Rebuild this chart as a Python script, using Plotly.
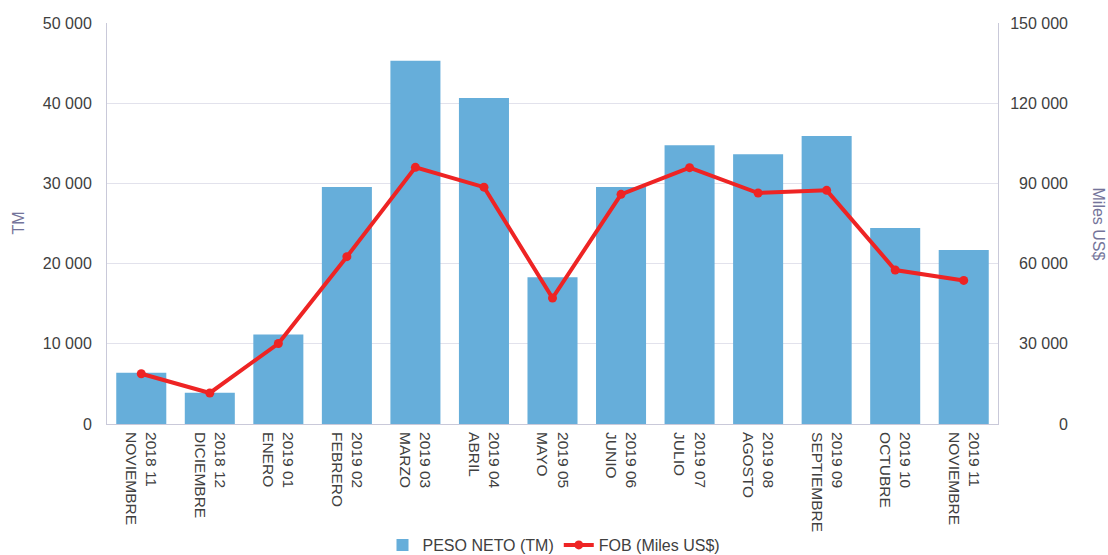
import plotly.graph_objects as go

months = ["2018 11<br>NOVIEMBRE", "2018 12<br>DICIEMBRE", "2019 01<br>ENERO", "2019 02<br>FEBRERO",
          "2019 03<br>MARZO", "2019 04<br>ABRIL", "2019 05<br>MAYO", "2019 06<br>JUNIO",
          "2019 07<br>JULIO", "2019 08<br>AGOSTO", "2019 09<br>SEPTIEMBRE", "2019 10<br>OCTUBRE",
          "2019 11<br>NOVIEMBRE"]
peso_neto_tm = [6400, 3900, 11150, 29550, 45300, 40650, 18300, 29550, 34750, 33650, 35900, 24450, 21700]
fob_miles_usd = [18800, 11600, 30100, 62600, 96000, 88600, 47100, 85900, 95900, 86400, 87400, 57600, 53700]

left_ticks = [0, 10000, 20000, 30000, 40000, 50000]
right_ticks = [0, 30000, 60000, 90000, 120000, 150000]


def fmt(v):
    return f"{v:,}".replace(",", " ")


font_family = "Liberation Sans, Arial, sans-serif"
tick_color = "#404040"
title_color = "#74749A"
axis_line = "#C9C9D9"
grid = "#E2E2EC"

W, H = 1108, 555
L, T = 107, 23
B = H - 424
R = W - 1068
plot_right = 998
dom_end = (plot_right - L) / (W - R - L)

fig = go.Figure()
fig.add_trace(go.Bar(
    x=months, y=peso_neto_tm, name="PESO NETO (TM)",
    marker=dict(color="#66AEDA", line=dict(width=0)),
    yaxis="y",
))
fig.add_trace(go.Scatter(
    x=months, y=fob_miles_usd, name="FOB (Miles US$)",
    mode="lines+markers",
    line=dict(color="#EE2424", width=4),
    marker=dict(color="#EE2424", size=9),
    yaxis="y2",
))

fig.update_layout(
    width=W, height=H,
    margin=dict(l=L, r=R, t=T, b=B),
    paper_bgcolor="white", plot_bgcolor="white",
    font=dict(family=font_family, size=16, color=tick_color),
    bargap=0.27,
    showlegend=True,
    legend=dict(orientation="h", xref="container", yref="container",
                x=554 / W, xanchor="center", y=1 - 545 / H, yanchor="middle",
                font=dict(size=16, color=tick_color), itemwidth=30, tracegroupgap=0),
    xaxis=dict(
        type="category", tickangle=90, showgrid=False, domain=[0, dom_end],
        range=[-0.5, len(months) - 0.5],
        showline=True, linecolor=axis_line, linewidth=1, automargin=False,
        ticks="", tickfont=dict(size=15.5, color=tick_color), ticklabelstandoff=4,
    ),
    yaxis=dict(
        range=[0, 50000], tickvals=left_ticks, ticktext=[fmt(v) for v in left_ticks],
        showgrid=True, gridcolor=grid, gridwidth=1,
        showline=True, mirror=True, linecolor=axis_line, linewidth=1,
        zeroline=False, ticks="", ticklabelstandoff=11, automargin=False,
        tickfont=dict(size=16, color=tick_color),
    ),
    yaxis2=dict(
        range=[0, 150000], overlaying="y", side="left", anchor="free", position=1.0,
        tickvals=right_ticks, ticktext=[fmt(v) for v in right_ticks],
        showgrid=False, showline=False, automargin=False,
        zeroline=False, ticks="", ticklabelstandoff=0,
        tickfont=dict(size=16, color=tick_color),
    ),
    annotations=[
        dict(text="Miles US$", xref="paper", yref="paper", x=1.0, xshift=30, y=0.5,
             showarrow=False, textangle=90, font=dict(size=16, color=title_color),
             xanchor="center", yanchor="middle"),
        dict(text="TM", xref="paper", yref="paper", x=0.0, xshift=-89, y=0.5,
             showarrow=False, textangle=-90, font=dict(size=16, color=title_color),
             xanchor="center", yanchor="middle"),
    ],
)

fig.write_html(
    "out.html",
    config={"displayModeBar": False},
    post_script="document.body.style.margin='0';document.body.style.overflow='hidden';",
)
